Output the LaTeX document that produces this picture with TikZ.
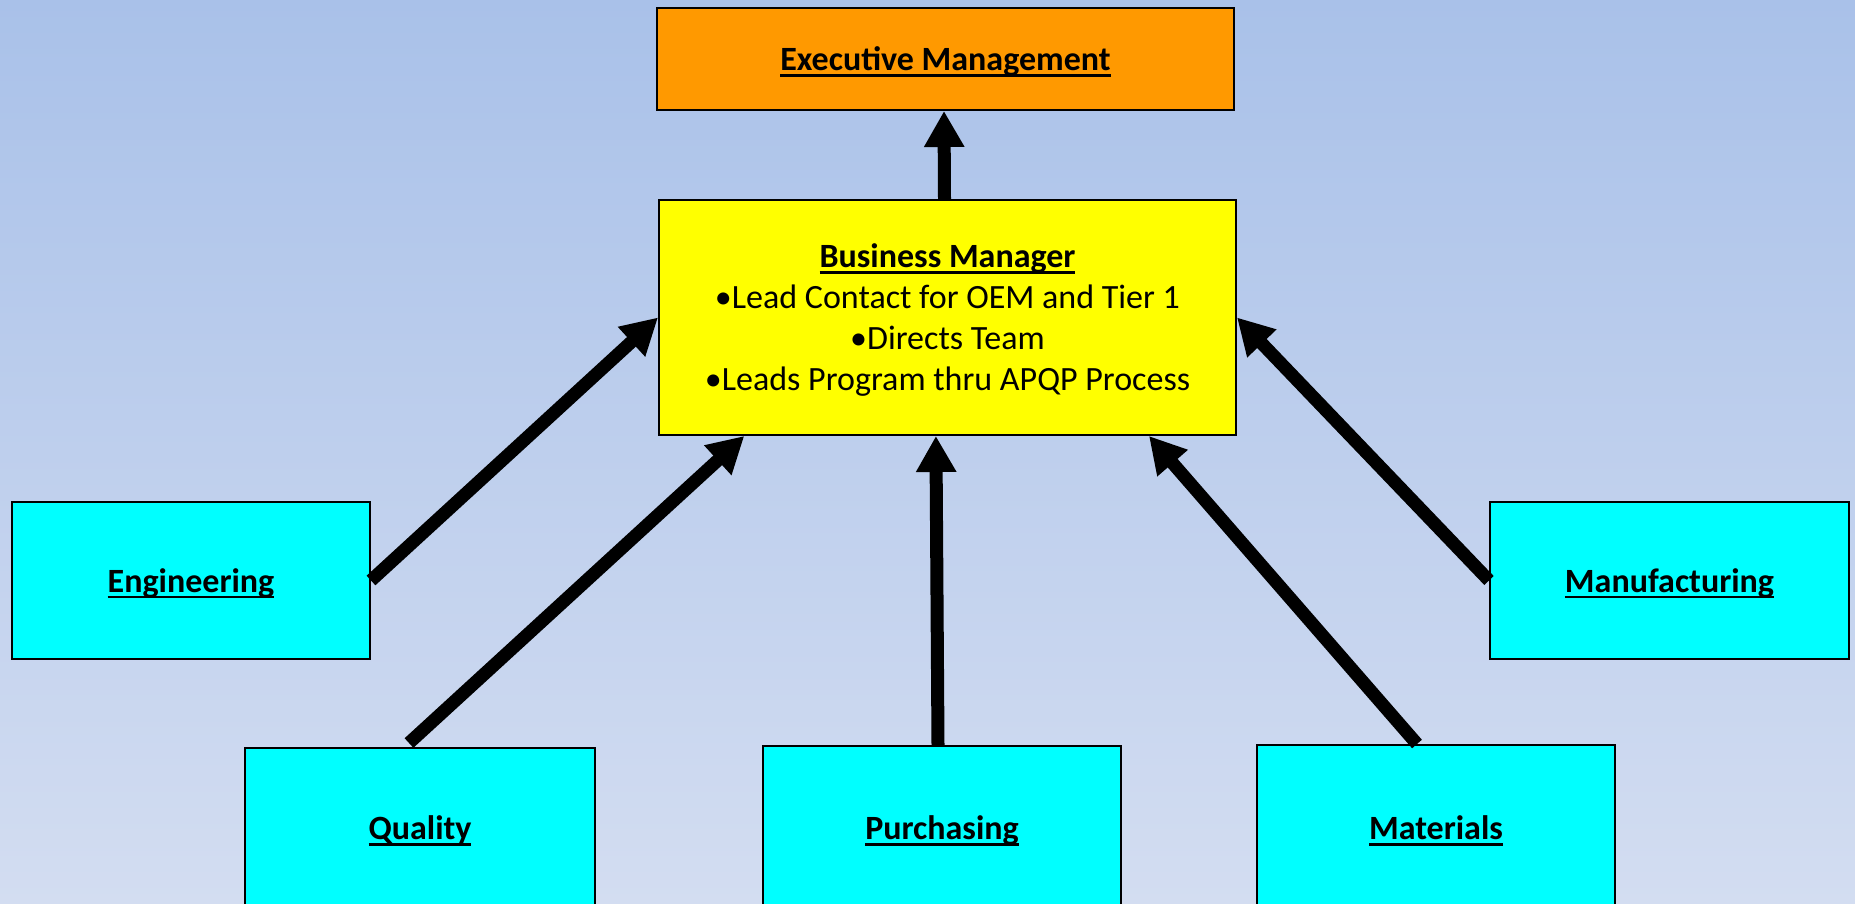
\documentclass[tikz,border=0pt]{standalone}
\usepackage{fontspec}
\setmainfont{Carlito}
\usetikzlibrary{arrows.meta,calc}
\definecolor{bgtop}{RGB}{169,193,233}
\definecolor{bgbot}{RGB}{211,221,241}
\definecolor{execfill}{RGB}{255,153,0}
\definecolor{bmfill}{RGB}{255,255,0}
\definecolor{deptfill}{RGB}{0,255,255}
\newcommand\myul[1]{\setbox0\hbox{#1}\rlap{\rule[-6pt]{\wd0}{2.8pt}}\box0}
\tikzset{
  box/.style={draw=black,line width=2pt,rectangle,inner sep=0pt,align=center,
    text depth=0pt,font=\fontsize{34}{41}\selectfont},
  conn/.style={line width=13pt,-{Triangle[width=38pt,length=36pt]},draw=black}
}
\begin{document}
\begin{tikzpicture}[x=1pt,y=-1pt]
\useasboundingbox (0,0) rectangle (1855,904);
\shade[top color=bgtop,bottom color=bgbot] (0,0) rectangle (1855,904);
\begin{scope}
\clip (0,0) rectangle (1855,904);
\node[box,fill=execfill,minimum width=577pt,minimum height=102pt] (exec) at (945.5,59) {\bfseries\myul{Executive Management}};
\node[box,fill=bmfill,minimum width=577pt,minimum height=235pt] (bm) at (947.5,317.5)
  {\bfseries\myul{Business Manager}\\ •Lead Contact for OEM and Tier 1\\ •Directs Team\\ •Leads Program thru APQP Process};
\node[box,fill=deptfill,minimum width=358pt,minimum height=157pt] (eng) at (191,580.5) {\bfseries\myul{Engineering}};
\node[box,fill=deptfill,minimum width=359pt,minimum height=157pt] (man) at (1669.5,580.5) {\bfseries\myul{Manufacturing}};
\node[box,fill=deptfill,minimum width=350pt,minimum height=160pt] (qual) at (420,828) {\bfseries\myul{Quality}};
\node[box,fill=deptfill,minimum width=358pt,minimum height=164pt] (purch) at (942,828) {\bfseries\myul{Purchasing}};
\node[box,fill=deptfill,minimum width=358pt,minimum height=166pt] (mat) at (1436,828) {\bfseries\myul{Materials}};
\end{scope}
\draw[conn] ($(bm.north)+(-3,0)$) -- ($(exec.south)+(-1.5,0)$);
\draw[conn] (eng.east) -- (bm.west);
\draw[conn] (man.west) -- (bm.east);
\draw[conn] ($(qual.north)+(-11,-4)$) -- ($(bm.south west)!0.149!(bm.south east)$);
\draw[conn] ($(purch.north)+(-4,0)$) -- ($(bm.south west)!0.48!(bm.south east)$);
\draw[conn] ($(mat.north)+(-19,0)$) -- ($(bm.south west)!0.848!(bm.south east)$);
\end{tikzpicture}
\end{document}
